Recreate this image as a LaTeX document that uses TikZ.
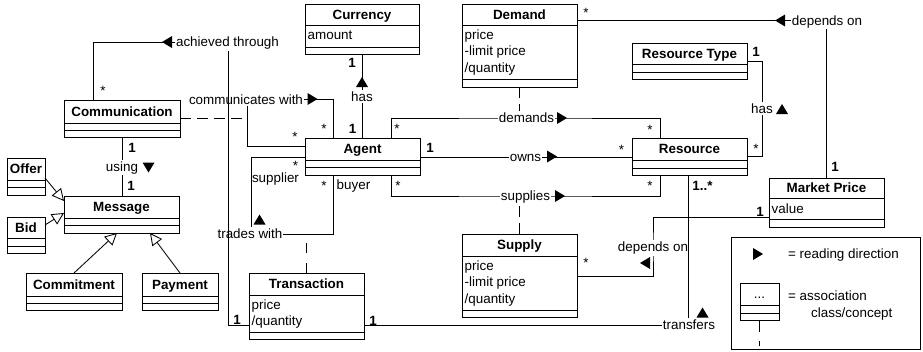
\documentclass[tikz,border=0pt]{standalone}
\usepackage{fontspec}
\setmainfont{Liberation Sans}
\usetikzlibrary{arrows.meta,calc}

\tikzset{
  every node/.style={font=\fontsize{13.4pt}{16pt}\selectfont},
  boxline/.style={line width=1pt},
  umlbox/.style={draw, line width=1pt, inner sep=0pt, outer sep=0pt, anchor=north west},
  title/.style={anchor=base, inner sep=0pt, font=\fontsize{13.4pt}{16pt}\selectfont\bfseries},
  assoc/.style={line width=0.85pt},
  assocdash/.style={line width=0.85pt, dash pattern=on 11pt off 6pt},
  gen/.style={line width=0.85pt, -{Triangle[open, length=12pt, width=12pt]}},
  lbl/.style={anchor=base, fill=white, inner xsep=1pt, inner ysep=1.5pt},
  mult/.style={anchor=base, inner sep=0pt},
  multb/.style={mult, font=\fontsize{13.4pt}{16pt}\selectfont\bfseries},
  attr/.style={anchor=base west, inner sep=0pt},
  % filled reading-direction triangles
  rtri/.pic={\fill (-5,-6) -- (5,0) -- (-5,6) -- cycle;},
  ltri/.pic={\fill (5,-6) -- (-5,0) -- (5,6) -- cycle;},
  utri/.pic={\fill (-6,5) -- (0,-5) -- (6,5) -- cycle;},
  dtri/.pic={\fill (-6,-5) -- (0,5) -- (6,-5) -- cycle;},
}

% #1 name, #2 left, #3 top, #4 right, #5 name divider, #6 attribute divider, #7 bottom, #8 title
\newcommand{\umlbox}[8]{%
  \node[umlbox, minimum width={(#4)-(#2)}, minimum height={(#7)-(#3)}] (#1) at (#2,#3) {};
  \draw[boxline] (#2,#5) -- (#4,#5) (#2,#6) -- (#4,#6);
  \node[title] (#1-title) at ({(#2+#4)/2},{(#3+#5)/2+4.8}) {#8};
}

\begin{document}
\begin{tikzpicture}[x=1pt, y=-1pt]
\path[use as bounding box, fill=white] (0,0) rectangle (923,351);

% ---------- classes ----------
\umlbox{comm}{64}{100}{180}{123}{130}{137}{Communication}
\umlbox{offer}{7}{158}{45}{180}{187}{195}{Offer}
\umlbox{msg}{64}{196}{179}{218}{225}{233}{Message}
\umlbox{bid}{7}{217}{45}{238}{246}{253}{Bid}
\umlbox{commit}{26}{273}{122}{296}{303}{310}{Commitment}
\umlbox{pay}{142}{273}{218}{296}{303}{310}{Payment}
\umlbox{trans}{249}{273}{364}{295}{332}{339}{Transaction}
\umlbox{currency}{305}{4}{419}{25}{47}{54}{Currency}
\umlbox{demand}{462}{4}{577}{25}{79}{87}{Demand}
\umlbox{agent}{305}{138}{420}{160}{167}{175}{Agent}
\umlbox{restype}{632}{43}{747}{64}{72}{79}{Resource Type}
\umlbox{resource}{632}{138}{747}{160}{168}{175}{Resource}
\umlbox{mp}{769}{178}{884}{198}{219}{227}{Market Price}
\umlbox{supply}{462}{234}{577}{256}{310}{317}{Supply}

% attributes
\node[attr] (currency-a1) at (307.5,39.5) {amount};
\node[attr] (demand-a1) at (464.5,39) {price};
\node[attr] (demand-a2) at (464.5,55.5) {-limit price};
\node[attr] (demand-a3) at (464.5,72) {/quantity};
\node[attr] (supply-a1) at (464.5,270) {price};
\node[attr] (supply-a2) at (464.5,286.5) {-limit price};
\node[attr] (supply-a3) at (464.5,303) {/quantity};
\node[attr] (trans-a1) at (251.5,309) {price};
\node[attr] (trans-a2) at (251.5,325.5) {/quantity};
\node[attr] (mp-a1) at (771.5,213) {value};

% ---------- associations ----------
\coordinate (comm-link) at (247,118);
\coordinate (dem-mid) at (525,118);
\coordinate (sup-mid) at (525,196);
\coordinate (trd) at (251,234);
\coordinate (rt-mid) at (762,109);
\coordinate (dep2) at (653,247);
\coordinate (ach) at (228,42);

% communicates with (Agent to Agent) and its association class
\draw[assoc] (agent.west |- 0,146) -| (247,99) -| ([xshift=28pt]agent.north west);
\draw[assocdash] (comm.east |- comm-link) -- (comm-link);

% has (Currency)
\draw[assoc] (currency.south) -- (currency.south |- agent.north);

% demands
\draw[assoc] ([xshift=86pt]agent.north west) |- (dem-mid) -| ([xshift=28pt]resource.north west);
\draw[assocdash] (demand.south) -- (demand.south |- dem-mid);

% owns
\draw[assoc] (agent.east |- 0,157) -- (resource.west |- 0,157);

% supplies
\draw[assoc] ([xshift=86pt]agent.south west) |- (sup-mid) -| ([xshift=28pt]resource.south west);
\draw[assocdash] (supply.north) -- (supply.north |- sup-mid);

% trades with
\draw[assoc] (agent.west |- 0,157) -| (trd) -| ([xshift=28pt]agent.south west);
\draw[line width=0.85pt, dash pattern=on 10pt off 10pt] (trans.north) -- (trans.north |- trd);

% has (Resource Type)
\draw[assoc] (restype.east |- 0,61) -| (rt-mid) |- (resource.east |- 0,156);

% depends on (Demand -> Market Price)
\draw[assoc] (demand.east |- 0,20) -| (mp.north);

% depends on (Supply -> Market Price)
\draw[assoc] (mp.west |- 0,217) -| (dep2) |- (supply.east |- 0,276);

% using
\draw[assoc] (comm.south) -- (comm.south |- msg.north);

% generalizations
\draw[gen] (offer.east |- 0,178) -- (msg.west |- 0,201);
\draw[gen] (bid.east |- 0,225) -- (msg.west |- 0,213);
\draw[gen] ([xshift=48pt]commit.north west) -- ([xshift=53pt]msg.south west);
\draw[gen] ([xshift=38pt]pay.north west) -- ([xshift=86pt]msg.south west);

% ---------- association labels ----------
\node[lbl] (l-comm) at (246,104) {communicates with};
\pic at (312.5,99) {rtri};
\node[lbl] (l-hascur) at (362,101.7) {has};
\pic at (362,82) {utri};
\node[lbl] (l-dem) at (526.5,122.7) {demands};
\pic at (562,118) {rtri};
\node[lbl] (l-owns) at (525.5,161) {owns};
\pic at (552,156.5) {rtri};
\node[lbl] (l-sup) at (525.5,200.5) {supplies};
\pic at (560,196) {rtri};
\node[lbl] (l-trd) at (250,238.5) {trades with};
\pic at (259.5,219.5) {utri};
\node[lbl] (l-hasrt) at (762,113.3) {has};
\pic at (782,109) {utri};
\node[lbl] (l-dep1) at (827,25) {depends on};
\pic at (780,20.5) {ltri};
\node[lbl] (l-dep2) at (653,251.5) {depends on};
\pic at (645,263) {ltri};
\node[lbl] (l-using) at (122,171) {using};
\pic at (148.5,167.5) {dtri};

% transfers (drawn over the neighbouring label)
\draw[assoc] (trans.east |- 0,325) -| ([xshift=56.5pt]resource.south west);
\node[lbl] (l-trf) at (689,329.5) {transfers};
\pic at (702.5,312.5) {utri};

% achieved through (runs across other labels)
\draw[assoc] ([xshift=29pt]comm.north west) |- (ach) |- (trans.west |- 0,325);
\node[lbl] (l-ach) at (227.5,46.7) {achieved through};
\pic at (167,42) {ltri};

% ---------- multiplicities and roles ----------
\node[mult]  (m1)  at (103,95.2) {*};
\node[multb] (m2)  at (237,324.5) {1};
\node[mult]  (m3)  at (295,141) {*};
\node[mult]  (m4)  at (324,133.4) {*};
\node[multb] (m5)  at (352.7,133.3) {1};
\node[multb] (m6)  at (352,67.7) {1};
\node[mult]  (m7)  at (397,133.7) {*};
\node[mult]  (m8)  at (650,134) {*};
\node[multb] (m9)  at (430,152.5) {1};
\node[mult]  (m10) at (621.5,154) {*};
\node[mult]  (m11) at (398,190.7) {*};
\node[mult]  (m12) at (650,190.3) {*};
\node[multb] (m13) at (702.5,190) {1..*};
\node[multb] (m14) at (373,325.5) {1};
\node[mult]  (m15) at (295.5,170.3) {*};
\node[mult]  (m16) at (324,190.7) {*};
\node[multb] (m17) at (756,56.7) {1};
\node[mult]  (m18) at (756,153.5) {*};
\node[mult]  (m19) at (586,17.7) {*};
\node[multb] (m20) at (835,171) {1};
\node[mult]  (m21) at (586,267.5) {*};
\node[multb] (m22) at (760,216) {1};
\node[multb] (m23) at (132,152.5) {1};
\node[multb] (m24) at (131,190) {1};
\node[mult]  (r-supplier) at (275.5,182.3) {supplier};
\node[mult]  (r-buyer) at (353.5,189.3) {buyer};

% ---------- legend ----------
\node[umlbox, minimum width=189, minimum height=112] (legend) at (731,237) {};
\pic at (758,254) {rtri};
\node[attr] (legend-t1) at (788,258.5) {= reading direction};
\umlbox{legendbox}{740}{283}{779}{305}{313}{320}{\mdseries ...}
\coordinate (legend-tail) at (759.5,346);
\draw[line width=0.85pt, dash pattern=on 12pt off 9pt] (legendbox.south) -- (legend-tail);
\node[attr] (legend-t2) at (788,300.5) {= association};
\node[attr] (legend-t3) at (811,317) {class/concept};
\end{tikzpicture}
\end{document}
